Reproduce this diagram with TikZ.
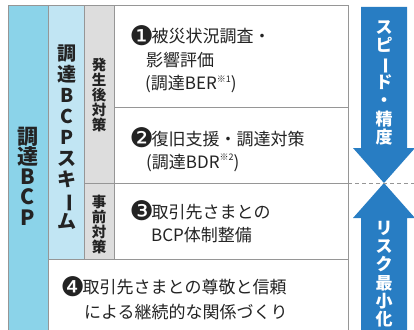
\documentclass[tikz,border=0pt]{standalone}
\usepackage{fontspec}
\usepackage{graphicx}
\newfontfamily\jp{Noto Sans CJK JP}
\newfontfamily\dv{DejaVu Sans}
\definecolor{colA}{RGB}{139,211,233}
\definecolor{colB}{RGB}{193,229,243}
\definecolor{colC}{RGB}{221,221,221}
\definecolor{arrowblue}{RGB}{40,125,195}
\definecolor{lineg}{RGB}{150,150,150}
\definecolor{txt}{RGB}{35,35,35}
\newcommand{\vbarchar}{\rotatebox[origin=c]{-90}{ー}}
\newcommand{\numc}[1]{\makebox[20.5pt][l]{\hspace*{-1.5pt}\raisebox{-2.6pt}{\dv\fontsize{27}{27}\selectfont #1}}}
\newcommand{\noteref}[1]{\raisebox{0.42em}{\fontsize{9}{9}\selectfont #1}}
\tikzset{
  cell/.style={draw=lineg, line width=0.9pt},
  bodyline/.style={anchor=base west, inner sep=0, text=txt, font=\jp\fontsize{17}{17}\selectfont},
  vlabel/.style={align=center, inner sep=0, text=txt},
  arrowlabel/.style={align=center, inner sep=0, text=white, font=\jp\bfseries\fontsize{17}{18.3}\selectfont},
}
\begin{document}
\begin{tikzpicture}[x=1pt,y=-1pt]
\useasboundingbox (0,0) rectangle (414,329);
\clip (0,0) rectangle (414,329);
% frame and cells
\fill[white] (8,5) rectangle (348,340);
\filldraw[cell, fill=colA] (8,5) rectangle (48,340);
\filldraw[cell, fill=colB] (48,5) rectangle (84,259);
\filldraw[cell, fill=colC] (84,5) rectangle (114,183);
\filldraw[cell, fill=colC] (84,183) rectangle (114,259);
\draw[cell] (114,5) rectangle (348,107);
\draw[cell] (114,107) rectangle (348,183);
\draw[cell] (114,183) rectangle (348,259);
\draw[cell] (48,259) rectangle (348,340);
% arrows
\fill[arrowblue] (361,7) -- (407,7) -- (407,148) -- (415,148) -- (384,183) -- (353,148) -- (361,148) -- cycle;
\fill[arrowblue] (384,183) -- (415,218) -- (407,218) -- (407,340) -- (361,340) -- (361,218) -- (353,218) -- cycle;
\coordinate (dashL) at (348,183);
\coordinate (dashR) at (414,183);
\draw[lineg, line width=0.9pt, dash pattern=on 4pt off 3pt] (dashL) -- (dashR);
% vertical labels
\node[vlabel, font=\jp\bfseries\fontsize{21}{20.3}\selectfont] (c1) at (28,176) {調\\達\\B\\C\\P};
\node[vlabel, font=\jp\bfseries\fontsize{19}{21}\selectfont] (c2) at (67,137) {調\\達\\B\\C\\P\\ス\\キ\\\vbarchar\\ム};
\node[vlabel, font=\jp\bfseries\fontsize{14.5}{15}\selectfont] (c3a) at (99,95) {発\\生\\後\\対\\策};
\node[vlabel, font=\jp\bfseries\fontsize{14.5}{15}\selectfont] (c3b) at (99,224) {事\\前\\対\\策};
\node[arrowlabel] (a1) at (384,83) {ス\\ピ\\\vbarchar\\ド\\・\\精\\度};
\node[arrowlabel] (a2) at (384,274) {リ\\ス\\ク\\最\\小\\化};
% body text
\node[bodyline] (r1a) at (131,42.5) {\numc{❶}被災状況調査・};
\node[bodyline] (r1b) at (146,66) {影響評価};
\node[bodyline] (r1c) at (145,89.5) {(調達BER\noteref{※1})};
\node[bodyline] (r2a) at (131,145) {\numc{❷}復旧支援・調達対策};
\node[bodyline] (r2b) at (146,168) {(調達BDR\noteref{※2})};
\node[bodyline] (r3a) at (131,218) {\numc{❸}取引先さまとの};
\node[bodyline] (r3b) at (151,241.5) {BCP体制整備};
\node[bodyline] (r4a) at (62,293.5) {\numc{❹}取引先さまとの尊敬と信頼};
\node[bodyline] (r4b) at (84,318.5) {による継続的な関係づくり};
\end{tikzpicture}
\end{document}
